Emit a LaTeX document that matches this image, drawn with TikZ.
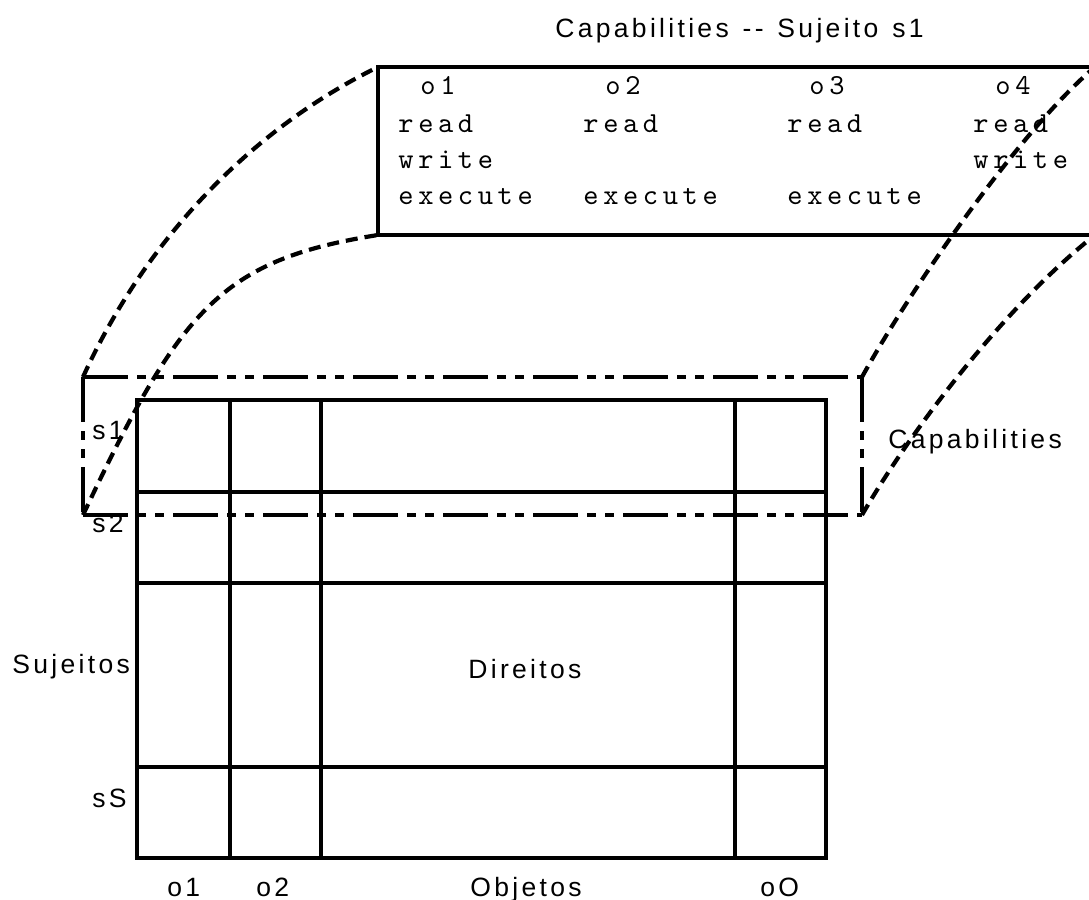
\documentclass[tikz,border=0pt]{standalone}
\usepackage{fontspec}
\newfontfamily\labelfont{Liberation Sans}[LetterSpace=12.5,WordSpace=1.3]
\newfontfamily\entryfont{lmmono10-regular.otf}[LetterSpace=16]
\newcommand\capfont{\entryfont\fontsize{14.5}{16}\selectfont}
\begin{document}
\begin{tikzpicture}[x=0.5pt,y=-0.5pt,
  grid/.style={line width=2.2pt},
  frame/.style={line width=2.1pt},
  slice/.style={line width=2.1pt,
    dash pattern=on 22.5pt off 4.5pt on 4.5pt off 4.5pt on 4.5pt off 4.5pt},
  zoomline/.style={line width=2.1pt, dash pattern=on 6pt off 3.5pt},
  lbl/.style={font=\labelfont\fontsize{13.25}{15}\selectfont,
    inner sep=0pt, anchor=base west},
  capt/.style={font=\capfont, inner sep=0pt, anchor=base west}]

\useasboundingbox (0,0) rectangle (1089,900);
\clip (0,0) rectangle (1089,900);

% access matrix: subjects x objects
\draw[grid] (137,400) rectangle (826,858);
\foreach \x in {230,321,735} \draw[grid] (\x,400) -- (\x,858);
\foreach \y in {492,583,767} \draw[grid] (137,\y) -- (826,\y);

% the row of subject s1 that is cut out
\draw[slice] (83,377) -- (862,377);
\draw[slice] (83,515) -- (862,515);
\draw[slice] (83,377) -- (83,515);
\draw[slice] (862,377) -- (862,515);

% capability list of s1
\draw[frame] (378,67) rectangle (1095,235);

% corners used by the projection lines
\coordinate (sliceTL) at (83,377);
\coordinate (sliceBL) at (83,515);
\coordinate (sliceTR) at (862,377);
\coordinate (sliceBR) at (862,515);
\coordinate (listTL) at (378,67);
\coordinate (listBL) at (378,235);
\coordinate (listTR) at (1095,67);
\coordinate (listBR) at (1095,235);

% labels
\node[lbl] (title) at (555,37) {Capabilities -{}- Sujeito s1};
\node[lbl] (caps) at (888,448) {Capabilities};
\node[lbl] (s1) at (92,439) {s1};
\node[lbl] (s2) at (92,532) {s2};
\node[lbl] (subj) at (12,673) {Sujeitos};
\node[lbl] (sS) at (92,807) {sS};
\node[lbl] (rights) at (468,678) {Direitos};
\node[lbl] (ob1) at (167,896) {o1};
\node[lbl] (ob2) at (256,896) {o2};
\node[lbl] (objs) at (470,896) {Objetos};
\node[lbl] (obO) at (760,896) {oO};

% capability entries
\node[capt] (c1h) at (420,94) {o1};
\node[capt] (c1r) at (398,132) {read};
\node[capt] (c1w) at (398,168) {write};
\node[capt] (c1x) at (398,204) {execute};
\node[capt] (c2h) at (605,94) {o2};
\node[capt] (c2r) at (583,132) {read};
\node[capt] (c2x) at (583,204) {execute};
\node[capt] (c3h) at (809,94) {o3};
\node[capt] (c3r) at (787,132) {read};
\node[capt] (c3x) at (787,204) {execute};
\node[capt] (c4h) at (995,94) {o4};
\node[capt] (c4r) at (973,132) {read};
\node[capt] (c4w) at (973,168) {write};

% projection lines from the row to its list
\draw[zoomline] (sliceTL) .. controls (150,230) and (260,125) .. (listTL);
\draw[zoomline] (sliceBL) .. controls (180,310) and (220,260) .. (listBL);
\draw[zoomline] (sliceTR) .. controls (910,290) and (1020,130) .. (listTR);
\draw[zoomline] (sliceBR) .. controls (905,440) and (1000,310) .. (listBR);
\end{tikzpicture}
\end{document}
